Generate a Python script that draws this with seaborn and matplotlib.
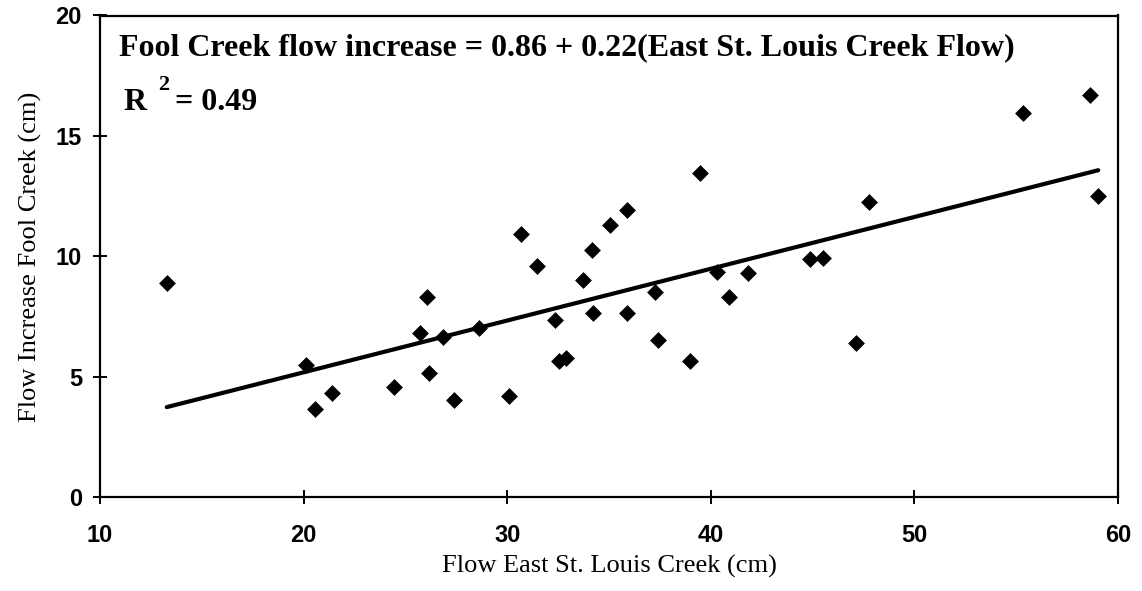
import matplotlib
matplotlib.use("Agg")
import matplotlib.pyplot as plt
import seaborn as sns
import pandas as pd

# Data
east_st_louis_flow = [13.28, 20.12, 20.58, 21.40, 24.44, 25.72, 26.04, 26.18, 26.86, 27.38,
                      28.63, 30.07, 30.69, 31.48, 32.36, 32.54, 32.87, 33.71, 34.16, 34.23,
                      35.07, 35.87, 35.87, 37.24, 37.42, 38.98, 39.47, 40.29, 40.91, 41.84,
                      44.87, 45.53, 47.13, 47.79, 55.31, 58.62, 59.03]
fool_creek_increase = [8.91, 5.49, 3.65, 4.35, 4.59, 6.80, 8.32, 5.14, 6.66, 4.02,
                       7.01, 4.19, 10.94, 9.59, 7.35, 5.65, 5.79, 9.04, 10.27, 7.67,
                       11.30, 11.91, 7.63, 8.51, 6.52, 5.66, 13.46, 9.35, 8.32, 9.31,
                       9.89, 9.95, 6.41, 12.26, 15.95, 16.68, 12.49]
x_ticks = [10, 20, 30, 40, 50, 60]
y_ticks = [0, 5, 10, 15, 20]
equation_text = "Fool Creek flow increase = 0.86 + 0.22(East St. Louis Creek Flow)"
r2_value = "= 0.49"

df = pd.DataFrame({"x": east_st_louis_flow, "y": fool_creek_increase})

sns.set_theme(style="white")
plt.rcParams["font.family"] = ["Liberation Serif", "DejaVu Serif"]
plt.rcParams["text.color"] = "black"
plt.rcParams["axes.labelcolor"] = "black"
plt.rcParams["xtick.color"] = "black"
plt.rcParams["ytick.color"] = "black"

fig = plt.figure(figsize=(11.42, 5.91), dpi=100)
ax = fig.add_axes([100 / 1142, 1 - 497.3 / 591, 1018 / 1142, (497.3 - 15.5) / 591])

sns.regplot(data=df, x="x", y="y", ax=ax, ci=None, truncate=True,
            marker="D",
            scatter_kws=dict(s=65, color="black", edgecolor="black", linewidths=0.5, alpha=1),
            line_kws=dict(color="black", linewidth=3))

ax.set_xlim(10, 60)
ax.set_ylim(0, 20)
ax.set_xticks(x_ticks)
ax.set_yticks(y_ticks)
tick_font = dict(family="Liberation Sans", weight="bold", size=17)
ax.set_xticklabels([str(t) for t in x_ticks], fontdict=tick_font)
ax.set_yticklabels([str(t) for t in y_ticks], fontdict=tick_font)
ax.tick_params(axis="both", direction="inout", length=10, width=1.4, color="black",
               labelcolor="black", bottom=True, left=True, top=False, right=False)
ax.tick_params(axis="x", pad=14)
ax.tick_params(axis="y", pad=8)
for s in ax.spines.values():
    s.set_visible(True)
    s.set_color("black")
    s.set_linewidth(1.6)

ax.set_xlabel("Flow East St. Louis Creek (cm)", fontsize=19, family="Liberation Serif",
              labelpad=6, color="black")
ax.set_ylabel("Flow Increase Fool Creek (cm)", fontsize=19, family="Liberation Serif",
              labelpad=10, color="black")

ax.text(0.0187, 0.918, equation_text, transform=ax.transAxes, ha="left", va="baseline",
        fontsize=23, fontweight="bold", family="Liberation Serif", color="black")
ax.text(0.0226, 0.804, "R", transform=ax.transAxes, ha="left", va="baseline",
        fontsize=23, fontweight="bold", family="Liberation Serif", color="black")
ax.text(0.057, 0.845, "2", transform=ax.transAxes, ha="left", va="baseline",
        fontsize=16, fontweight="bold", family="Liberation Serif", color="black")
ax.text(0.0737, 0.804, r2_value, transform=ax.transAxes, ha="left", va="baseline",
        fontsize=23, fontweight="bold", family="Liberation Serif", color="black")

fig.savefig("out.png", dpi=100, facecolor="white")
